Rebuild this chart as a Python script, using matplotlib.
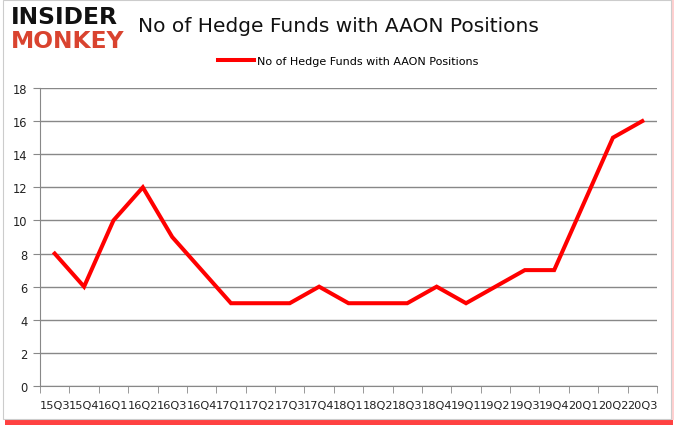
import matplotlib.pyplot as plt
from matplotlib.patches import Rectangle

# quarter labels and hedge fund counts
quarters = ["15Q3", "15Q4", "16Q1", "16Q2", "16Q3", "16Q4", "17Q1", "17Q2",
            "17Q3", "17Q4", "18Q1", "18Q2", "18Q3", "18Q4", "19Q1", "19Q2",
            "19Q3", "19Q4", "20Q1", "20Q2", "20Q3"]
funds = [8, 6, 10, 12, 9, 7, 5, 5, 5, 6, 5, 5, 5, 6, 5, 6, 7, 7, 11, 15, 16]
y_ticks = [0, 2, 4, 6, 8, 10, 12, 14, 16, 18]

W, H = 678, 431
fig = plt.figure(figsize=(W / 100, H / 100), dpi=100)
fig.patch.set_facecolor("white")

# frame with reddish shadow like the original
shadow = Rectangle((5 / W, 1 - 426 / H), 668 / W, 422 / H, transform=fig.transFigure,
                   facecolor="#ff2020", edgecolor="none", alpha=0.85, zorder=0)
pink = Rectangle((4 / W, 1 - 421 / H), 670 / W, 420 / H, transform=fig.transFigure,
                 facecolor="#ffd0d0", edgecolor="none", zorder=0.5)
frame = Rectangle((3 / W, 1 - 420 / H), 668 / W, 419 / H, transform=fig.transFigure,
                  facecolor="white", edgecolor="#cccccc", linewidth=0.8, zorder=1)
fig.patches.extend([shadow, pink, frame])

ax = fig.add_axes([40 / W, 1 - 387 / H, 617 / W, 298 / H])
ax.set_zorder(2)
ax.patch.set_alpha(0)

x = list(range(len(quarters)))
ax.plot(x, funds, color="#ff0000", linewidth=2.9, solid_joinstyle="miter",
        label="No of Hedge Funds with AAON Positions", zorder=3)

ax.set_xlim(-0.5, len(quarters) - 0.5)
ax.set_ylim(0, 18)
ax.set_yticks(y_ticks)
ax.set_xticks(x)
ax.set_xticklabels(quarters)
ax.set_xticks([i - 0.5 for i in range(len(quarters) + 1)], minor=True)
ax.yaxis.grid(True, color="#888888", linewidth=1)
ax.set_axisbelow(True)

for side in ["top", "right"]:
    ax.spines[side].set_visible(False)
ax.spines["left"].set_color("#888888")
ax.spines["bottom"].set_color("#888888")

ax.tick_params(axis="x", which="major", length=0, pad=10, labelsize=8.2, colors="#222222")
ax.tick_params(axis="x", which="minor", length=5, color="#888888")
ax.tick_params(axis="y", length=5, color="#888888", labelsize=8.3, colors="#222222", pad=4)

ax.legend(loc="upper center", bbox_to_anchor=(0.5, 1.14), frameon=False,
          fontsize=8, handlelength=3.2, handletextpad=0.3)

fig.text(338 / W, 1 - 26 / H, "No of Hedge Funds with AAON Positions",
         ha="center", va="center", fontsize=14.5, color="#111111")

# logo text
fig.text(11 / W, 1 - 17 / H, "INSIDER", ha="left", va="center", fontsize=16.8,
         fontweight="heavy", color="#111111")
fig.text(11 / W, 1 - 41 / H, "MONKEY", ha="left", va="center", fontsize=16.8,
         fontweight="heavy", color="#d9432f")

plt.savefig("out.png", dpi=100)
plt.close()
